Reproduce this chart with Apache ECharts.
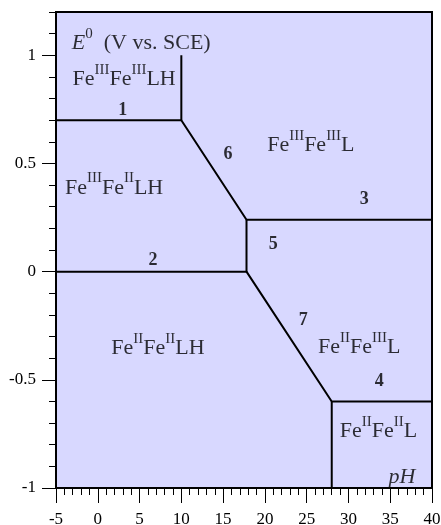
<!DOCTYPE html>
<html>
<head>
<meta charset="utf-8">
<script src="https://cdn.jsdelivr.net/npm/echarts@6/dist/echarts.min.js"></script>
<style>
  html, body { margin: 0; padding: 0; background: #fff; }
  #chart { width: 441px; height: 525px; }
</style>
</head>
<body>
<div id="chart"></div>
<script>
const serif = "Liberation Serif";

// phase boundaries, [pH, E0]
const boundary1 = [[-5, 0.7], [10, 0.7], [10, 1.0]];
const boundary6 = [[10, 0.7], [17.8, 0.24], [40, 0.24]];
const boundary2 = [[-5, 0], [17.8, 0], [17.8, 0.24]];
const boundary7 = [[17.8, 0], [28, -0.6], [40, -0.6]];
const boundary4 = [[28, -0.6], [28, -1]];

// region species labels [pH, E0, text]
const speciesLabels = [
  [3.15, 0.89, "{n|Fe}{s|III}{n|Fe}{s|III}{n|LH}"],
  [25.5, 0.585, "{n|Fe}{s|III}{n|Fe}{s|III}{n|L}"],
  [1.95, 0.387, "{n|Fe}{s|III}{n|Fe}{s|II}{n|LH}"],
  [7.2, -0.355, "{n|Fe}{s|II}{n|Fe}{s|II}{n|LH}"],
  [31.3, -0.35, "{n|Fe}{s|II}{n|Fe}{s|III}{n|L}"],
  [33.6, -0.737, "{n|Fe}{s|II}{n|Fe}{s|II}{n|L}"],
];

// equilibrium numbers
const lineNumbers = [
  [3.0, 0.747, "1"],
  [6.6, 0.05, "2"],
  [31.9, 0.332, "3"],
  [33.7, -0.507, "4"],
  [21.0, 0.124, "5"],
  [15.6, 0.544, "6"],
  [24.6, -0.226, "7"],
];

const axisTitles = [
  [5.2, 1.055, "{e|E}{s|0}{n|  (V vs. SCE)}"],
  [36.4, -0.95, "{i|pH}"],
];

const xMajor = [-5, 0, 5, 10, 15, 20, 25, 30, 35, 40];
const yMajor = [-1, -0.5, 0, 0.5, 1];

const rich = {
  n: { fontFamily: serif, fontSize: 22, color: "#000", verticalAlign: "middle" },
  s: { fontFamily: serif, fontSize: 15, color: "#000", verticalAlign: "middle", padding: [0, 0, 19, 0] },
  e: { fontFamily: serif, fontSize: 22, fontStyle: "italic", color: "#000", verticalAlign: "middle" },
  i: { fontFamily: serif, fontSize: 22, fontStyle: "italic", color: "#000" },
};

function boundarySeries(data) {
  return {
    type: "line",
    data,
    symbol: "none",
    silent: true,
    lineStyle: { color: "#000", width: 2 },
    z: 3,
  };
}

function textSeries(data, label) {
  return {
    type: "scatter",
    data,
    symbolSize: 0,
    silent: true,
    label: { show: true, position: "inside", formatter: (p) => p.data[2], ...label },
    z: 4,
  };
}

const tickLabel = { color: "#000", fontFamily: serif, fontSize: 17 };
const black = { color: "#000", width: 1 };

const chart = echarts.init(document.getElementById("chart"), null, { renderer: "canvas" });
chart.setOption({
  animation: false,
  grid: {
    left: 56, right: 9, top: 12, bottom: 37,
    show: true, backgroundColor: "#d8d8ff", borderColor: "#000", borderWidth: 2,
    outerBoundsMode: "none",
  },
  xAxis: {
    type: "value",
    min: -5, max: 40, interval: 5,
    axisLine: { show: true, onZero: false, lineStyle: { color: "#000", width: 2 } },
    axisTick: { show: true, inside: false, length: 15, lineStyle: black },
    minorTick: { show: true, splitNumber: 5, length: 7, lineStyle: black },
    axisLabel: { ...tickLabel, margin: 23, customValues: xMajor },
    splitLine: { show: false },
  },
  yAxis: [
    {
      type: "value",
      min: -1, max: 1.2, interval: 0.1,
      axisLine: { show: true, onZero: false, lineStyle: { color: "#000", width: 2 } },
      axisTick: { show: true, inside: false, length: 7, lineStyle: black },
      axisLabel: { show: false },
      splitLine: { show: false },
    },
    {
      type: "value",
      position: "left",
      min: -1, max: 1.2,
      axisLine: { show: false, onZero: false },
      axisTick: { show: true, inside: false, length: 14, customValues: yMajor, lineStyle: black },
      axisLabel: { ...tickLabel, margin: 20, customValues: yMajor, formatter: (v) => String(v) },
      splitLine: { show: false },
    },
  ],
  series: [
    boundarySeries(boundary1),
    boundarySeries(boundary6),
    boundarySeries(boundary2),
    boundarySeries(boundary7),
    boundarySeries(boundary4),
    textSeries(speciesLabels, { rich }),
    textSeries(lineNumbers, { fontFamily: serif, fontSize: 18, fontWeight: "bold", color: "#000" }),
    textSeries(axisTitles, { rich }),
  ],
});
</script>
</body>
</html>
